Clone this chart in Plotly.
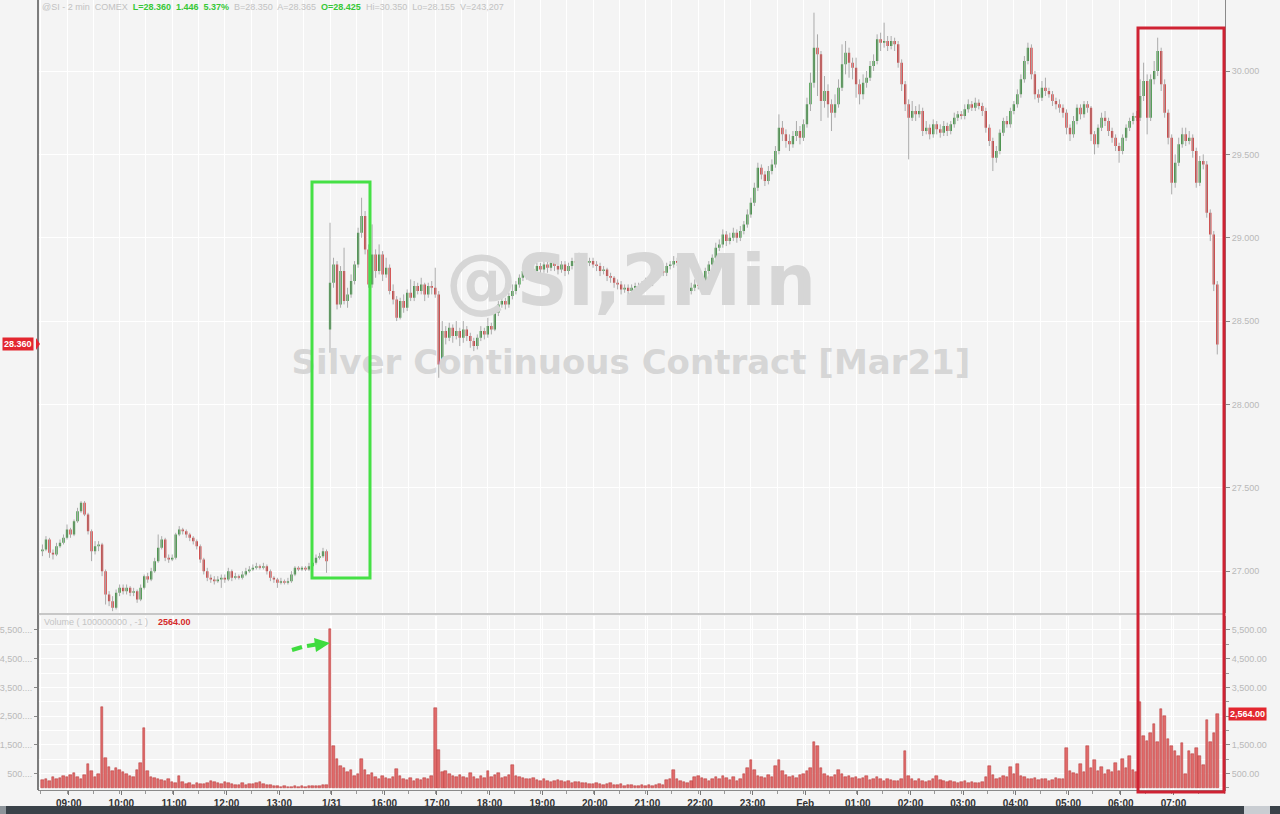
import plotly.graph_objects as go

# ---------------- data (4-minute bars) ----------------
OPEN = [
    27.12, 27.13, 27.19, 27.11, 27.10, 27.15, 27.17, 27.20, 27.25, 27.22,
    27.30, 27.36, 27.41, 27.34, 27.24, 27.12, 27.15, 27.16, 27.00, 26.86,
    26.82, 26.78, 26.87, 26.90, 26.88, 26.90, 26.87, 26.88, 26.83, 26.90,
    26.97, 26.95, 27.00, 27.06, 27.14, 27.19, 27.08, 27.07, 27.08, 27.22,
    27.25, 27.24, 27.22, 27.20, 27.18, 27.15, 27.07, 27.00, 26.96, 26.95,
    26.94, 26.95, 26.96, 26.95, 27.00, 26.96, 26.97, 26.96, 26.98, 27.00,
    27.01, 27.02, 27.03, 27.02, 27.03, 27.00, 26.96, 26.95, 26.93, 26.94,
    26.93, 26.94, 26.98, 27.02, 27.01, 27.02, 27.01, 27.03, 27.05, 27.08,
    27.09, 27.12,
    28.45, 28.73, 28.84, 28.60, 28.80, 28.62, 28.66, 28.74,
    28.84, 29.03, 29.13, 28.93, 28.72, 28.90, 28.80, 28.90, 28.78, 28.82,
    28.68, 28.63, 28.52, 28.62, 28.58, 28.67, 28.64, 28.71, 28.68, 28.72,
    28.66, 28.71, 28.70, 28.66, 28.24, 28.44, 28.40, 28.46, 28.41, 28.44,
    28.40, 28.45, 28.41, 28.38, 28.35, 28.40, 28.44, 28.42, 28.47, 28.45,
    28.55, 28.60, 28.62, 28.60, 28.65, 28.68, 28.72, 28.76, 28.80, 28.78,
    28.81, 28.80, 28.83, 28.81, 28.84, 28.82, 28.85, 28.83, 28.81, 28.84,
    28.80, 28.83, 28.86, 28.85, 28.88, 28.86, 28.85, 28.86, 28.84, 28.83,
    28.80, 28.81, 28.77, 28.76, 28.73, 28.72, 28.69, 28.70, 28.68, 28.70,
    28.71, 28.70, 28.72, 28.74, 28.73, 28.76, 28.78, 28.80, 28.79, 28.83,
    28.84, 28.86, 28.85, 28.80, 28.72, 28.68, 28.70, 28.72, 28.71, 28.74,
    28.80, 28.84, 28.88, 28.94, 28.96, 29.02, 28.98, 29.00, 29.03, 29.00,
    29.04, 29.08, 29.14, 29.21, 29.30, 29.42, 29.38, 29.34, 29.40, 29.44,
    29.52, 29.66, 29.62, 29.58, 29.56, 29.61, 29.64, 29.60, 29.68, 29.80,
    29.93, 30.14, 30.10, 29.82, 29.88, 29.80, 29.75, 29.80, 29.90, 30.04,
    30.11, 30.05, 30.02, 29.92, 29.86, 29.93, 29.96, 30.03, 30.06, 30.19,
    30.17, 30.18, 30.15, 30.18, 30.16, 30.05, 29.92, 29.80, 29.72, 29.76,
    29.74, 29.76, 29.64, 29.66, 29.62, 29.68, 29.65, 29.63, 29.67, 29.64,
    29.68, 29.72, 29.74, 29.73, 29.77, 29.80, 29.78, 29.81, 29.79, 29.76,
    29.66, 29.58, 29.48, 29.52, 29.63, 29.70, 29.68, 29.76, 29.80, 29.86,
    29.95, 30.06, 30.14, 29.98, 29.86, 29.84, 29.90, 29.88, 29.86, 29.82,
    29.80, 29.78, 29.75, 29.66, 29.62, 29.70, 29.78, 29.74, 29.80, 29.78,
    29.62, 29.56, 29.66, 29.72, 29.70, 29.64, 29.60, 29.55, 29.52, 29.60,
    29.66, 29.70, 29.73, 29.72, 29.85, 29.94, 29.72, 29.95, 30.00, 30.12,
    29.92, 29.75, 29.60, 29.33, 29.45, 29.56, 29.62, 29.58, 29.60, 29.52,
    29.33, 29.46, 29.44, 29.15, 29.02, 28.72,
]
HIGH = [
    27.16, 27.21, 27.20, 27.13, 27.17, 27.19, 27.22, 27.28, 27.26, 27.31,
    27.38, 27.42, 27.42, 27.35, 27.25, 27.18, 27.18, 27.17, 27.01, 26.88,
    26.85, 26.89, 26.92, 26.92, 26.92, 26.91, 26.90, 26.89, 26.92, 26.98,
    26.99, 27.02, 27.08, 27.22, 27.21, 27.20, 27.10, 27.10, 27.23, 27.27,
    27.26, 27.25, 27.23, 27.21, 27.19, 27.16, 27.08, 27.02, 26.98, 26.97,
    26.97, 26.98, 26.98, 27.02, 27.01, 26.99, 26.98, 27.00, 27.02, 27.03,
    27.04, 27.05, 27.04, 27.05, 27.04, 27.01, 26.97, 26.96, 26.96, 26.95,
    26.96, 27.00, 27.03, 27.03, 27.03, 27.03, 27.05, 27.06, 27.10, 27.11,
    27.14, 27.13,
    29.09, 28.88, 28.86, 28.83, 28.94, 28.70, 28.78, 28.86,
    29.06, 29.24, 29.16, 28.96, 29.08, 28.93, 28.96, 28.92, 28.88, 28.84,
    28.72, 28.65, 28.64, 28.66, 28.69, 28.75, 28.74, 28.73, 28.76, 28.73,
    28.73, 28.74, 28.82, 28.68, 28.50, 28.47, 28.49, 28.48, 28.50, 28.46,
    28.50, 28.47, 28.43, 28.40, 28.42, 28.47, 28.46, 28.52, 28.49, 28.57,
    28.62, 28.66, 28.64, 28.67, 28.72, 28.74, 28.78, 28.83, 28.82, 28.83,
    28.84, 28.85, 28.85, 28.87, 28.86, 28.88, 28.87, 28.85, 28.86, 28.86,
    28.85, 28.88, 28.88, 28.91, 28.90, 28.88, 28.88, 28.88, 28.86, 28.85,
    28.83, 28.82, 28.79, 28.77, 28.75, 28.74, 28.72, 28.72, 28.72, 28.73,
    28.73, 28.74, 28.76, 28.76, 28.78, 28.80, 28.82, 28.82, 28.85, 28.86,
    28.89, 28.88, 28.87, 28.81, 28.74, 28.73, 28.75, 28.74, 28.76, 28.82,
    28.86, 28.90, 28.97, 28.99, 29.05, 29.04, 29.03, 29.06, 29.05, 29.07,
    29.10, 29.17, 29.24, 29.33, 29.45, 29.44, 29.40, 29.43, 29.47, 29.55,
    29.74, 29.70, 29.65, 29.62, 29.64, 29.70, 29.67, 29.71, 29.84, 29.99,
    30.35, 30.22, 30.12, 29.97, 29.92, 29.83, 29.86, 29.95, 30.16, 30.18,
    30.14, 30.08, 30.08, 29.95, 29.98, 30.00, 30.06, 30.10, 30.22, 30.23,
    30.29, 30.21, 30.21, 30.20, 30.18, 30.07, 29.94, 29.83, 29.82, 29.79,
    29.80, 29.78, 29.70, 29.68, 29.71, 29.70, 29.68, 29.70, 29.69, 29.70,
    29.75, 29.76, 29.76, 29.80, 29.83, 29.82, 29.84, 29.83, 29.81, 29.78,
    29.68, 29.60, 29.55, 29.65, 29.72, 29.73, 29.78, 29.82, 29.89, 29.98,
    30.09, 30.17, 30.16, 30.00, 29.89, 29.94, 29.96, 29.90, 29.88, 29.84,
    29.83, 29.80, 29.77, 29.68, 29.73, 29.80, 29.80, 29.82, 29.82, 29.79,
    29.64, 29.68, 29.75, 29.76, 29.72, 29.66, 29.62, 29.57, 29.62, 29.68,
    29.72, 29.75, 29.76, 29.95, 30.05, 29.98, 29.98, 30.06, 30.20, 30.14,
    29.95, 29.77, 29.62, 29.50, 29.60, 29.66, 29.66, 29.64, 29.62, 29.54,
    29.49, 29.50, 29.46, 29.17, 29.04, 28.74,
]
LOW = [
    27.09, 27.12, 27.08, 27.07, 27.09, 27.14, 27.16, 27.19, 27.20, 27.21,
    27.29, 27.35, 27.33, 27.22, 27.06, 27.10, 27.12, 26.97, 26.80, 26.79,
    26.76, 26.77, 26.85, 26.86, 26.86, 26.85, 26.85, 26.81, 26.82, 26.89,
    26.93, 26.94, 26.99, 27.05, 27.13, 27.06, 27.05, 27.06, 27.07, 27.21,
    27.22, 27.20, 27.18, 27.16, 27.13, 27.05, 26.98, 26.94, 26.93, 26.92,
    26.93, 26.90, 26.93, 26.94, 26.94, 26.95, 26.95, 26.95, 26.97, 26.99,
    27.00, 27.01, 27.01, 27.01, 26.98, 26.94, 26.93, 26.90, 26.92, 26.92,
    26.92, 26.93, 26.97, 27.00, 27.00, 27.00, 27.00, 27.02, 27.04, 27.07,
    27.08, 26.99,
    28.31, 28.70, 28.57, 28.58, 28.60, 28.58, 28.64, 28.72,
    28.82, 29.00, 28.90, 28.70, 28.70, 28.76, 28.78, 28.74, 28.76, 28.66,
    28.60, 28.50, 28.51, 28.55, 28.56, 28.62, 28.62, 28.66, 28.66, 28.62,
    28.64, 28.66, 28.64, 28.16, 28.22, 28.36, 28.38, 28.37, 28.39, 28.35,
    28.37, 28.38, 28.34, 28.32, 28.33, 28.38, 28.39, 28.40, 28.42, 28.44,
    28.53, 28.58, 28.57, 28.58, 28.63, 28.66, 28.70, 28.74, 28.75, 28.76,
    28.77, 28.78, 28.78, 28.79, 28.79, 28.80, 28.80, 28.78, 28.79, 28.77,
    28.78, 28.81, 28.83, 28.83, 28.84, 28.83, 28.83, 28.82, 28.80, 28.77,
    28.78, 28.74, 28.73, 28.70, 28.69, 28.66, 28.67, 28.65, 28.66, 28.68,
    28.67, 28.68, 28.70, 28.71, 28.71, 28.74, 28.76, 28.77, 28.77, 28.81,
    28.82, 28.83, 28.78, 28.69, 28.65, 28.66, 28.68, 28.69, 28.69, 28.72,
    28.78, 28.82, 28.86, 28.92, 28.94, 28.95, 28.96, 28.98, 28.97, 28.98,
    29.02, 29.06, 29.12, 29.19, 29.28, 29.35, 29.31, 29.32, 29.38, 29.42,
    29.50, 29.58, 29.54, 29.52, 29.54, 29.58, 29.56, 29.58, 29.66, 29.76,
    29.90, 29.85, 29.70, 29.78, 29.72, 29.64, 29.72, 29.78, 29.88, 29.98,
    29.96, 29.95, 29.84, 29.80, 29.83, 29.90, 29.94, 30.00, 30.04, 30.12,
    30.14, 30.12, 30.13, 30.12, 30.02, 29.88, 29.76, 29.47, 29.70, 29.70,
    29.72, 29.61, 29.62, 29.59, 29.60, 29.62, 29.60, 29.61, 29.61, 29.62,
    29.66, 29.70, 29.71, 29.71, 29.75, 29.76, 29.76, 29.77, 29.73, 29.63,
    29.55, 29.40, 29.45, 29.50, 29.61, 29.66, 29.66, 29.74, 29.78, 29.84,
    29.93, 30.04, 29.95, 29.83, 29.81, 29.82, 29.85, 29.84, 29.79, 29.77,
    29.75, 29.72, 29.62, 29.58, 29.60, 29.68, 29.71, 29.72, 29.75, 29.58,
    29.50, 29.54, 29.64, 29.67, 29.61, 29.57, 29.52, 29.45, 29.50, 29.58,
    29.64, 29.68, 29.70, 29.70, 29.82, 29.62, 29.70, 29.92, 29.97, 29.88,
    29.72, 29.56, 29.26, 29.30, 29.43, 29.54, 29.55, 29.56, 29.48, 29.30,
    29.31, 29.41, 29.12, 28.98, 28.68, 28.30,
]
CLOSE = [
    27.13, 27.19, 27.11, 27.10, 27.15, 27.17, 27.20, 27.25, 27.22, 27.30,
    27.36, 27.41, 27.34, 27.24, 27.12, 27.15, 27.16, 27.00, 26.86, 26.82,
    26.78, 26.87, 26.90, 26.88, 26.90, 26.87, 26.88, 26.83, 26.90, 26.97,
    26.95, 27.00, 27.06, 27.14, 27.19, 27.08, 27.07, 27.08, 27.22, 27.25,
    27.24, 27.22, 27.20, 27.18, 27.15, 27.07, 27.00, 26.96, 26.95, 26.94,
    26.95, 26.96, 26.95, 27.00, 26.96, 26.97, 26.96, 26.98, 27.00, 27.01,
    27.02, 27.03, 27.02, 27.03, 27.00, 26.96, 26.95, 26.93, 26.94, 26.93,
    26.94, 26.98, 27.02, 27.01, 27.02, 27.01, 27.03, 27.05, 27.08, 27.09,
    27.12, 27.06,
    28.73, 28.84, 28.60, 28.80, 28.62, 28.66, 28.74, 28.84,
    29.03, 29.13, 28.93, 28.72, 28.90, 28.80, 28.90, 28.78, 28.82, 28.68,
    28.63, 28.52, 28.62, 28.58, 28.67, 28.64, 28.71, 28.68, 28.72, 28.66,
    28.71, 28.70, 28.66, 28.24, 28.44, 28.40, 28.46, 28.41, 28.44, 28.40,
    28.45, 28.41, 28.38, 28.35, 28.40, 28.44, 28.42, 28.47, 28.45, 28.55,
    28.60, 28.62, 28.60, 28.65, 28.68, 28.72, 28.76, 28.80, 28.78, 28.81,
    28.80, 28.83, 28.81, 28.84, 28.82, 28.85, 28.83, 28.81, 28.84, 28.80,
    28.83, 28.86, 28.85, 28.88, 28.86, 28.85, 28.86, 28.84, 28.83, 28.80,
    28.81, 28.77, 28.76, 28.73, 28.72, 28.69, 28.70, 28.68, 28.70, 28.71,
    28.70, 28.72, 28.74, 28.73, 28.76, 28.78, 28.80, 28.79, 28.83, 28.84,
    28.86, 28.85, 28.80, 28.72, 28.68, 28.70, 28.72, 28.71, 28.74, 28.80,
    28.84, 28.88, 28.94, 28.96, 29.02, 28.98, 29.00, 29.03, 29.00, 29.04,
    29.08, 29.14, 29.21, 29.30, 29.42, 29.38, 29.34, 29.40, 29.44, 29.52,
    29.66, 29.62, 29.58, 29.56, 29.61, 29.64, 29.60, 29.68, 29.80, 29.93,
    30.14, 30.10, 29.82, 29.88, 29.80, 29.75, 29.80, 29.90, 30.04, 30.11,
    30.05, 30.02, 29.92, 29.86, 29.93, 29.96, 30.03, 30.06, 30.19, 30.17,
    30.18, 30.15, 30.18, 30.16, 30.05, 29.92, 29.80, 29.72, 29.76, 29.74,
    29.76, 29.64, 29.66, 29.62, 29.68, 29.65, 29.63, 29.67, 29.64, 29.68,
    29.72, 29.74, 29.73, 29.77, 29.80, 29.78, 29.81, 29.79, 29.76, 29.66,
    29.58, 29.48, 29.52, 29.63, 29.70, 29.68, 29.76, 29.80, 29.86, 29.95,
    30.06, 30.14, 29.98, 29.86, 29.84, 29.90, 29.88, 29.86, 29.82, 29.80,
    29.78, 29.75, 29.66, 29.62, 29.70, 29.78, 29.74, 29.80, 29.78, 29.62,
    29.56, 29.66, 29.72, 29.70, 29.64, 29.60, 29.55, 29.52, 29.60, 29.66,
    29.70, 29.73, 29.72, 29.85, 29.94, 29.72, 29.95, 30.00, 30.12, 29.92,
    29.75, 29.60, 29.33, 29.45, 29.56, 29.62, 29.58, 29.60, 29.52, 29.33,
    29.46, 29.44, 29.15, 29.02, 28.72, 28.36,
]
VOLUME = [
    280, 320, 250, 380, 300, 350, 420, 380, 460, 520,
    400, 300, 450, 850, 600, 380, 500, 2820, 1050, 720,
    600, 680, 640, 560, 500, 420, 380, 620, 880, 2100,
    600, 380, 350, 300, 280, 250, 300, 220, 180, 420,
    200, 150, 180, 120, 160, 130, 140, 180, 250, 200,
    160, 130, 220, 180, 150, 110, 120, 160, 100, 150,
    130, 180, 220, 150, 100, 90, 70, 60, 50, 60,
    40, 50, 60, 40, 60, 50, 70, 60, 80, 60,
    90, 110,
    5545, 1450, 1020, 780, 700, 560, 620, 420,
    480, 1020, 640, 450, 520, 380, 300, 420, 350, 320,
    380, 650, 420, 300, 280, 350, 260, 310, 280, 360,
    300, 420, 2800, 1310, 560, 600, 480, 420, 380, 450,
    400, 360, 520, 380, 320, 420, 350, 600, 380, 450,
    520, 350, 380, 460, 790, 420, 380, 350, 320, 300,
    350, 280, 260, 300, 250, 220, 260, 280, 230, 200,
    240, 180, 200, 220, 160, 190, 150, 130, 170, 140,
    120, 150, 180, 110, 100, 130, 80, 100, 90, 80,
    70, 90, 80, 100, 70, 90, 150, 120, 270, 330,
    610, 300, 250, 200, 180, 240, 380, 420, 350, 300,
    250, 320, 380, 300, 420, 350, 290, 380, 260, 300,
    480, 700, 960, 620, 420, 380, 350, 450, 380, 750,
    960, 600, 450, 380, 420, 350, 460, 500, 600, 700,
    1600, 1450, 700, 500, 420, 380, 450, 620, 500, 380,
    420, 350, 400, 300, 350, 420, 280, 300, 380, 330,
    250, 300, 280, 260, 240, 330, 1290, 420, 300, 260,
    300, 250, 220, 260, 300, 420, 280, 230, 200, 250,
    220, 180, 200, 240, 180, 220, 190, 170, 200, 380,
    760, 450, 300, 350, 420, 380, 730, 500, 820, 420,
    380, 330, 300, 360, 280, 320, 300, 260, 280, 350,
    300, 320, 1390, 600, 520, 480, 850, 550, 1460, 700,
    960, 600, 720, 500, 640, 560, 880, 600, 1000, 700,
    1100, 640, 560, 3000, 1800, 1650, 1900, 2240, 1600, 2760,
    2500, 1700, 1450, 1300, 1100, 1550, 500, 1300, 1200, 1400,
    1100, 800, 2350, 1600, 1900, 2564,
]
HOUR_LABELS = ["09:00", "10:00", "11:00", "12:00", "13:00", "1/31", "16:00",
               "17:00", "18:00", "19:00", "20:00", "21:00", "22:00", "23:00",
               "Feb", "01:00", "02:00", "03:00", "04:00", "05:00", "06:00", "07:00"]
PRICE_TICKS = [27.0, 27.5, 28.0, 28.5, 29.0, 29.5, 30.0]
VOL_TICKS = [500, 1500, 2500, 3500, 4500, 5500]
LAST_PRICE = 28.36
LAST_VOLUME = 2564
HEADER = ("@SI - 2 min", "COMEX", "L=28.360", "1.446", "5.37%", "B=28.350",
          "A=28.365", "O=28.425", "Hi=30.350", "Lo=28.155", "V=243,207")
WATERMARK = ("@SI,2Min", "Silver Continuous Contract [Mar21]")

# ---------------- layout helpers ----------------
W, H = 1280, 814
BG = "#f4f4f4"
GRID = "#ffffff"
GREEN = "#1b861f"
RED = "#d21c1c"


def px(x):
    return x / W


def py(y):
    return 1 - y / H


idx = list(range(len(CLOSE)))
BAR_PER_HOUR = 15
hour_pos = [7.5 + BAR_PER_HOUR * k for k in range(len(HOUR_LABELS))]

fig = go.Figure()

# watermark (below the candles)
fig.add_trace(go.Scatter(
    x=[167.8], y=[28.70], text=[WATERMARK[0]], mode="text",
    textfont=dict(family="DejaVu Sans", size=71, color="#d6d6d6", weight="bold"),
    hoverinfo="skip", showlegend=False, xaxis="x", yaxis="y"))
fig.add_trace(go.Scatter(
    x=[167.8], y=[28.235], text=[WATERMARK[1]], mode="text",
    textfont=dict(family="DejaVu Sans", size=34, color="#d6d6d6", weight="bold"),
    hoverinfo="skip", showlegend=False, xaxis="x", yaxis="y"))

# wicks (light grey)
fig.add_trace(go.Ohlc(
    x=idx, open=OPEN, high=HIGH, low=LOW, close=CLOSE, tickwidth=0,
    increasing=dict(line=dict(color="#ababab", width=1)),
    decreasing=dict(line=dict(color="#ababab", width=1)),
    hoverinfo="skip", showlegend=False, xaxis="x", yaxis="y"))
# bodies
fig.add_trace(go.Candlestick(
    x=idx, open=OPEN, high=HIGH, low=LOW, close=CLOSE, whiskerwidth=0,
    increasing=dict(line=dict(color=GREEN, width=0), fillcolor=GREEN),
    decreasing=dict(line=dict(color=RED, width=0), fillcolor=RED),
    showlegend=False, xaxis="x", yaxis="y"))

# volume
fig.add_trace(go.Bar(
    x=idx, y=VOLUME, width=0.72,
    marker=dict(color="#e06a6a", line=dict(color="#b53434", width=0.5)),
    showlegend=False, xaxis="x2", yaxis="y2"))
fig.add_trace(go.Scatter(x=[None], y=[None], xaxis="x2", yaxis="y3",
                         showlegend=False, hoverinfo="skip"))

XDOM = [px(38), px(1225)]
XRANGE = [-1.27, 337.2]
axis_font = dict(family="Liberation Sans, Arial", size=9, color="#b9b9b9")

fig.update_layout(
    width=W, height=H,
    margin=dict(l=0, r=0, t=0, b=0),
    paper_bgcolor=BG, plot_bgcolor=BG,
    showlegend=False, bargap=0, boxgap=0.08,
    xaxis=dict(domain=XDOM, range=XRANGE, anchor="y",
               rangeslider=dict(visible=False),
               tickmode="linear", tick0=-0.5, dtick=7.5,
               showticklabels=False, ticks="", showgrid=True,
               gridcolor=GRID, gridwidth=1, zeroline=False, showline=False),
    yaxis=dict(domain=[py(613), 1], range=[26.749, 30.426], anchor="x",
               side="right", tickvals=PRICE_TICKS, tickformat=".3f",
               tickfont=axis_font, ticks="outside", ticklen=4,
               tickcolor="#8a8a8a", showline=True, linecolor="#8a8a8a",
               showgrid=True, gridcolor=GRID, gridwidth=1, zeroline=False),
    xaxis2=dict(domain=XDOM, range=XRANGE, anchor="y2", matches="x",
                tickmode="array", tickvals=hour_pos, ticktext=HOUR_LABELS,
                tickfont=dict(family="Liberation Sans, Arial", size=10,
                              color="#333333", weight="bold"),
                ticks="outside", ticklen=4, tickcolor="#777",
                showline=True, linecolor="#8a8a8a",
                showgrid=True, gridcolor=GRID, zeroline=False,
                minor=dict(tickmode="linear", tick0=-0.5, dtick=7.5,
                           ticks="outside", ticklen=3, tickcolor="#999",
                           showgrid=True, gridcolor=GRID)),
    yaxis2=dict(domain=[py(790), py(616)], range=[-70, 5987], anchor="x2",
                side="right", tickvals=VOL_TICKS,
                ticktext=[f"{v:,.2f}" for v in VOL_TICKS],
                tickfont=axis_font, ticks="outside", ticklen=4,
                tickcolor="#8a8a8a", showline=True, linecolor="#8a8a8a",
                showgrid=True, gridcolor=GRID, zeroline=False,
                minor=dict(tickmode="linear", tick0=0, dtick=500,
                           ticks="outside", ticklen=3, tickcolor="#999",
                           showgrid=True, gridcolor=GRID)),
    yaxis3=dict(overlaying="y2", anchor="x2", side="left", range=[-70, 5987],
                tickvals=VOL_TICKS, ticktext=[f"{v:,}...." for v in VOL_TICKS],
                tickfont=axis_font, ticks="outside", ticklen=3,
                tickcolor="#888", showgrid=False, zeroline=False,
                showline=False),
)

# header line
g = "#c2c2c2"
gr = "#37c837"
header = (f'<span style="color:{g}">{HEADER[0]}  {HEADER[1]}  </span>'
          f'<span style="color:{gr}"><b>{HEADER[2]}  {HEADER[3]}  {HEADER[4]}</b></span>'
          f'<span style="color:{g}">  {HEADER[5]}  {HEADER[6]}  </span>'
          f'<span style="color:{gr}"><b>{HEADER[7]}</b></span>'
          f'<span style="color:{g}">  {HEADER[8]}  {HEADER[9]}  {HEADER[10]}</span>')
annotations = [
    dict(x=px(40), y=py(7), xref="paper", yref="paper", xanchor="left",
         yanchor="middle", text=header, showarrow=False,
         font=dict(family="Liberation Sans, Arial", size=9)),
    dict(x=px(42), y=py(622), xref="paper", yref="paper", xanchor="left",
         yanchor="middle", showarrow=False,
         text=(f'<span style="color:#c4c4c4">Volume ( 100000000 , -1 )</span>'
               f'    <span style="color:#d42a2a"><b>{LAST_VOLUME:.2f}</b></span>'),
         font=dict(family="Liberation Sans, Arial", size=9)),
    dict(x=px(2), y=LAST_PRICE, xref="paper", yref="y", xanchor="left",
         yanchor="middle", showarrow=False, text=f"<b>{LAST_PRICE:.3f}</b>",
         font=dict(family="Liberation Sans, Arial", size=9, color="white"),
         bgcolor="#e3262f", borderpad=1),
    dict(x=px(1228), y=LAST_VOLUME, xref="paper", yref="y2", xanchor="left",
         yanchor="middle", showarrow=False, text=f"<b>{LAST_VOLUME:,.2f}</b>",
         font=dict(family="Liberation Sans, Arial", size=9, color="white"),
         bgcolor="#e3262f", borderpad=1),
]

shapes = [
    # left frame line
    dict(type="line", xref="paper", yref="paper", x0=px(38), x1=px(38),
         y0=py(0), y1=py(790), line=dict(color="#555555", width=1.5)),
    # panel separator
    dict(type="line", xref="paper", yref="paper", x0=px(38), x1=px(1225),
         y0=py(614), y1=py(614), line=dict(color="#9a9a9a", width=1)),
    # tag notch for last price
    dict(type="path", xref="paper", yref="paper",
         path=f"M {px(36)} {py(338)} L {px(40)} {py(344)} L {px(36)} {py(350)} Z",
         fillcolor="#e3262f", line=dict(width=0)),
    # highlight boxes
    dict(type="rect", xref="paper", yref="paper", x0=px(312), x1=px(370),
         y0=py(578), y1=py(182), line=dict(color="#45e045", width=3)),
    dict(type="rect", xref="paper", yref="paper", x0=px(1138), x1=px(1224),
         y0=py(792), y1=py(28), line=dict(color="#cf2233", width=3)),
    # green dashed arrow
    dict(type="line", xref="paper", yref="paper", x0=px(292), x1=px(302),
         y0=py(650), y1=py(647), line=dict(color="#3fdc3f", width=4)),
    dict(type="line", xref="paper", yref="paper", x0=px(307), x1=px(316),
         y0=py(646), y1=py(644.5), line=dict(color="#3fdc3f", width=4)),
    dict(type="path", xref="paper", yref="paper",
         path=(f"M {px(314)} {py(638)} L {px(330)} {py(643)} "
               f"L {px(316)} {py(652)} Z"),
         fillcolor="#3fdc3f", line=dict(width=0)),
    # bottom scrollbar strip
    dict(type="rect", xref="paper", yref="paper", x0=0, x1=1,
         y0=0, y1=py(806), fillcolor="#3a4249", line=dict(width=0)),
    dict(type="rect", xref="paper", yref="paper", x0=px(1244), x1=px(1270),
         y0=0, y1=py(806), fillcolor="#c9cdd2", line=dict(width=0)),
    dict(type="rect", xref="paper", yref="paper", x0=0, x1=px(6),
         y0=0, y1=py(806), fillcolor="#8d949a", line=dict(width=0)),
]
fig.update_layout(annotations=annotations, shapes=shapes)

fig.write_html(
    "out.html",
    config={"displayModeBar": False},
    post_script=("document.body.style.margin='0';"
                 "document.body.style.overflow='hidden';"))
